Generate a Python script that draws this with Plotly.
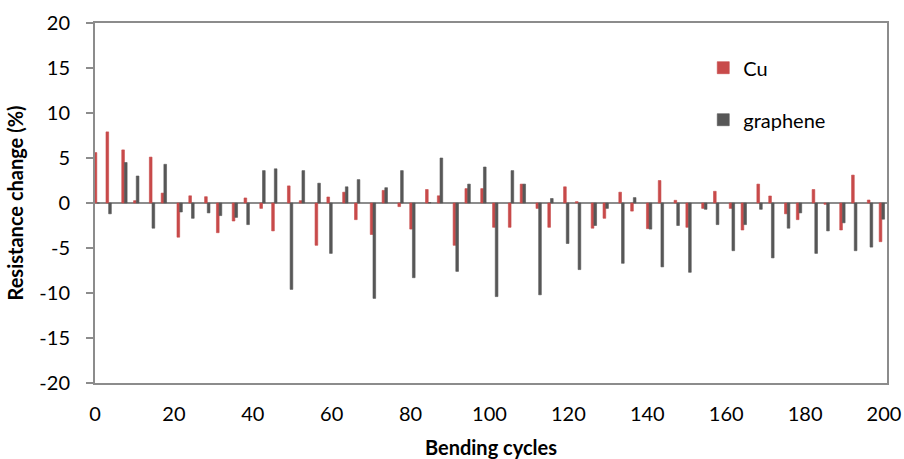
import plotly.graph_objects as go

cycles = [0, 3, 7, 10, 14, 17, 21, 24, 28, 31, 35, 38, 42, 45, 49, 52, 56, 59, 63, 66,
          70, 73, 77, 80, 84, 87, 91, 94, 98, 101, 105, 108, 112, 115, 119, 122, 126, 129,
          133, 136, 140, 143, 147, 150, 154, 157, 161, 164, 168, 171, 175, 178, 182, 185,
          189, 192, 196, 199]

cu = [5.6, 7.9, 5.9, 0.26, 5.1, 1.1, -3.8, 0.8, 0.7, -3.3, -2.0, 0.56, -0.6, -3.1, 1.9,
      0.26, -4.7, 0.67, 1.2, -1.85, -3.5, 1.4, -0.4, -2.9, 1.5, 0.8, -4.7, 1.6, 1.6, -2.7,
      -2.7, 2.1, -0.6, -2.7, 1.8, 0.15, -2.8, -1.7, 1.2, -0.9, -2.85, 2.5, 0.3, -2.7, -0.6,
      1.3, -0.6, -3.0, 2.1, 0.78, -1.2, -1.85, 1.5, -0.15, -3.0, 3.1, 0.33, -4.3]

graphene = [0.0, -1.2, 4.5, 3.0, -2.8, 4.3, -1.0, -1.7, -1.1, -1.4, -1.6, -2.4, 3.6, 3.8,
            -9.6, 3.6, 2.2, -5.6, 1.8, 2.6, -10.6, 1.7, 3.6, -8.3, 0.05, 5.0, -7.6, 2.1, 4.0,
            -10.4, 3.6, 2.1, -10.2, 0.5, -4.5, -7.4, -2.5, -0.6, -6.7, 0.6, -2.9, -7.1, -2.5,
            -7.7, -0.7, -2.4, -5.3, -2.4, -0.7, -6.1, -2.8, -1.1, -5.6, -3.1, -2.2, -5.3,
            -4.9, -1.8]

x_ticks = [0, 20, 40, 60, 80, 100, 120, 140, 160, 180, 200]
y_ticks = [-20, -15, -10, -5, 0, 5, 10, 15, 20]

FONT = "Lato"
AX = "#8c8c8c"

fig = go.Figure()
fig.add_trace(go.Bar(
    x=cycles, y=cu, name="Cu", width=0.68, offset=-0.22,
    marker=dict(color="#C84A4A", line=dict(color="#C84A4A", width=0.6)),
    legendgroup="a",
))
fig.add_trace(go.Bar(
    x=cycles, y=graphene, name="graphene", width=0.68, offset=0.46,
    marker=dict(color="#575757", line=dict(color="#575757", width=0.6)),
    legendgroup="b",
))

fig.update_layout(
    width=904, height=459,
    margin=dict(l=95, r=17, t=23, b=76),
    paper_bgcolor="white", plot_bgcolor="white",
    barmode="overlay",
    font=dict(family=FONT, size=20, color="black"),
    legend=dict(x=0.768, y=0.93, xanchor="left", yanchor="top",
                font=dict(size=20), tracegroupgap=23, bgcolor="rgba(0,0,0,0)"),
    xaxis=dict(
        range=[0, 200.76], tickvals=x_ticks, ticktext=[str(v) for v in x_ticks],
        showgrid=False, zeroline=False, showline=True, linecolor=AX, linewidth=2,
        mirror=True, ticks="", ticklabelstandoff=12, automargin=False,
        tickfont=dict(size=20),
        title=dict(text="<b>Bending cycles</b>", font=dict(size=20), standoff=17),
    ),
    xaxis2=dict(
        range=[0, 200.76], tickvals=x_ticks, overlaying="x", anchor="free",
        position=0.5, showline=False, showgrid=False, zeroline=False,
        ticks="outside", ticklen=7, tickcolor=AX, tickwidth=2, showticklabels=False,
    ),
    yaxis=dict(
        range=[-20, 20], tickvals=y_ticks, ticktext=[str(v) for v in y_ticks],
        showgrid=False, zeroline=True, zerolinecolor=AX, zerolinewidth=2,
        showline=True, linecolor=AX, linewidth=2, mirror=True,
        ticks="outside", ticklen=7, tickcolor=AX, tickwidth=2, ticklabelstandoff=12,
        layer="above traces", automargin=False, tickfont=dict(size=20),
        title=dict(text="<b>Resistance change (%)</b>", font=dict(size=20), standoff=10),
    ),
)

fig.write_html("out.html", config={"displayModeBar": False},
               post_script="document.body.style.margin='0';")
